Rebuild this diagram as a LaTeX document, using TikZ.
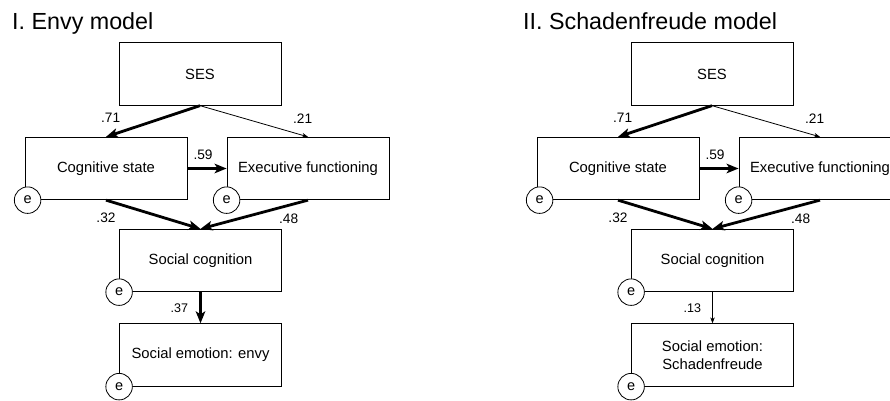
\documentclass[tikz,border=0pt]{standalone}
\usepackage{fontspec}
\setmainfont{Liberation Sans}
\usetikzlibrary{arrows.meta,positioning}

\begin{document}
\begin{tikzpicture}[
    x = 1pt, y = 1pt,
    > = {Stealth[length=12pt, width=9.5pt, inset=3pt]},
    var/.style = {rectangle, draw, line width=0.8pt, minimum width=162pt, minimum height=62.5pt, inner sep=2pt, align=center, font=\fontsize{14.8}{17.5}\selectfont},
    err/.style = {circle, draw, fill=white, line width=0.8pt, minimum size=26.5pt, inner sep=0pt, font=\fontsize{14.5}{16}\selectfont},
    title/.style = {anchor=base west, inner sep=0pt, font=\fontsize{23.3}{27}\selectfont},
    lbl/.style = {inner sep=1pt, font=\fontsize{13.7}{16}\selectfont},
    small/.style = {inner sep=1pt, font=\fontsize{12.5}{15}\selectfont},
    strong/.style = {->, line width=2.8pt},
    weak/.style = {-{Stealth[length=6pt, width=4.5pt]}, line width=0.8pt}
]
    \useasboundingbox (0,0) rectangle (890,400);

    % I. Envy model
    \node[title] (t1) at (12,370.7) {I. Envy model};
    \node[var] (ses1) at (200,326) {SES};
    \node[var] (cog1) at (106,231.5) {Cognitive state};
    \node[var] (exe1) at (308,231.5) {Executive functioning};
    \node[var] (soc1) at (200.5,139.5) {Social cognition};
    \node[var] (emo1) at (200.5,45) {Social emotion: envy};

    \node[err, xshift=3pt] (e11) at (cog1.south west) {e};
    \node[err] (e12) at (exe1.south west) {e};
    \node[err] (e13) at (soc1.south west) {e};
    \node[err] (e14) at (emo1.south west) {e};

    \path
        (ses1.south) edge[strong] node[lbl, pos=.95, above=10pt] {.71} (cog1.north)
        (ses1.south) edge[weak] node[lbl, pos=.95, above=10pt] {.21} (exe1.north)
        (cog1.east) edge[strong] node[lbl, pos=.4, above=6pt] {.59} (exe1.west)
        (cog1.south) edge[strong] node[lbl, pos=0, below=10pt] {.32} (soc1.north)
        (exe1.south) edge[strong] node[lbl, pos=.18, below=6pt] {.48} (soc1.north)
        (soc1.south) edge[strong] node[small, midway, left=10pt] {.37} (emo1.north);

    % II. Schadenfreude model
    \begin{scope}[xshift=512pt]
    \node[title] (t2) at (11,370.7) {II. Schadenfreude model};
    \node[var] (ses2) at (200,326) {SES};
    \node[var] (cog2) at (106,231.5) {Cognitive state};
    \node[var] (exe2) at (308,231.5) {Executive functioning};
    \node[var] (soc2) at (200.5,139.5) {Social cognition};
    \node[var] (emo2) at (200.5,45) {Social emotion:\\Schadenfreude};

    \node[err, xshift=3pt] (e21) at (cog2.south west) {e};
    \node[err] (e22) at (exe2.south west) {e};
    \node[err] (e23) at (soc2.south west) {e};
    \node[err] (e24) at (emo2.south west) {e};

    \path
        (ses2.south) edge[strong] node[lbl, pos=.95, above=10pt] {.71} (cog2.north)
        (ses2.south) edge[weak] node[lbl, pos=.95, above=10pt] {.21} (exe2.north)
        (cog2.east) edge[strong] node[lbl, pos=.4, above=6pt] {.59} (exe2.west)
        (cog2.south) edge[strong] node[lbl, pos=0, below=10pt] {.32} (soc2.north)
        (exe2.south) edge[strong] node[lbl, pos=.18, below=6pt] {.48} (soc2.north)
        (soc2.south) edge[weak] node[small, midway, left=10pt] {.13} (emo2.north);
    \end{scope}
\end{tikzpicture}
\end{document}
